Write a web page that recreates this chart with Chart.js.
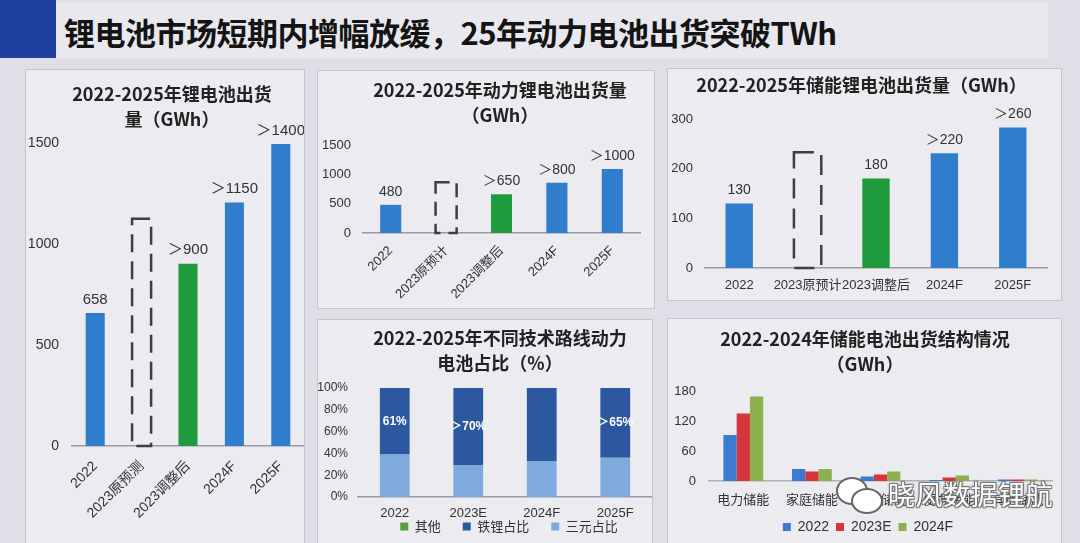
<!DOCTYPE html>
<html>
<head>
<meta charset="utf-8">
<script src="https://cdn.jsdelivr.net/npm/chart.js@4.4.1/dist/chart.umd.min.js"></script>
<style>
  body { margin: 0; width: 1080px; height: 543px; overflow: hidden; position: relative;
         background: #dfdfe7; font-family: 'Noto Sans CJK SC', sans-serif; }
  .band { position: absolute; left: 0; top: 3px; width: 1048px; height: 55px; background: #e8e8ee; }
  .blue { position: absolute; left: 0; top: 0; width: 56px; height: 58px; background: #1e3f9e; }
  .title { position: absolute; left: 64px; top: 9px; font-size: 31px; font-weight: 700; color: #141414;
           letter-spacing: -0.5px; white-space: nowrap; }
  .panel { position: absolute; background: #ebebf0; border: 1px solid #c5c5ce; box-sizing: border-box; }
  .panel div { position: absolute; left: 0; top: 0; right: 0; bottom: 0; }
  .wm { position: absolute; left: 836px; top: 474px; height: 40px; white-space: nowrap; }
  .wm .txt { position: absolute; left: 52px; top: 0; font-size: 27px; color: #fff; letter-spacing: 0.5px;
             text-shadow: -1px -1px 0 #777, 1px -1px 0 #777, -1px 1px 0 #777, 1px 1px 0 #777, 0 0 3px #555; }
  .b1 { position: absolute; left: 0; top: 3px; width: 28px; height: 24px; border-radius: 50%;
        background: #fff; border: 2px solid #666; }
  .b2 { position: absolute; left: 15px; top: 14px; width: 28px; height: 22px; border-radius: 50%;
        background: #fff; border: 2px solid #666; }
</style>
</head>
<body>
<div class="band"></div>
<div class="blue"></div>
<div class="title">锂电池市场短期内增幅放缓，25年动力电池出货突破TWh</div>

<div class="panel" style="left:25px;top:69px;width:280px;height:476px;"><div><canvas id="cTotal"></canvas></div></div>
<div class="panel" style="left:317px;top:70px;width:338px;height:239px;"><div><canvas id="cPower"></canvas></div></div>
<div class="panel" style="left:667px;top:68px;width:395px;height:233px;"><div><canvas id="cStorage"></canvas></div></div>
<div class="panel" style="left:317px;top:319px;width:336px;height:226px;"><div><canvas id="cRoute"></canvas></div></div>
<div class="panel" style="left:667px;top:318px;width:395px;height:227px;"><div><canvas id="cStruct"></canvas></div></div>

<div class="wm"><div class="b1"></div><div class="b2"></div><span class="txt">晓风数据锂航</span></div>

<script>
// ---- data ----
const totalCats = ['2022', '2023原预测', '2023调整后', '2024F', '2025F'];
const totalVals = [658, 1125, 902, 1205, 1495];
const totalLabels = ['658', '', '＞900', '＞1150', '＞1400'];
const totalTicks = [0, 500, 1000, 1500];

const powerCats = ['2022', '2023原预计', '2023调整后', '2024F', '2025F'];
const powerVals = [480, 865, 660, 855, 1090];
const powerLabels = ['480', '', '＞650', '＞800', '＞1000'];
const powerTicks = [0, 500, 1000, 1500];

const storageCats = ['2022', '2023原预计', '2023调整后', '2024F', '2025F'];
const storageVals = [130, 233, 180, 231, 283];
const storageLabels = ['130', '', '180', '＞220', '＞260'];
const storageTicks = [0, 100, 200, 300];

const routeCats = ['2022', '2023E', '2024F', '2025F'];
const ternaryShare = [39, 29, 33, 36];
const lfpShare = [61, 71, 67, 64];
const otherShare = [0, 0, 0, 0];
const lfpLabels = ['61%', '＞70%', '', '＞65%'];
const routeTicks = [0, 20, 40, 60, 80, 100];

const structCats = ['电力储能', '家庭储能', '通信储能', '便携储能', '其他储能'];
const struct2022 = [92, 24, 9, 2, 3];
const struct2023E = [135, 19, 13, 7, 3];
const struct2024F = [169, 24, 19, 11, 3];
const structTicks = [0, 60, 120, 180];

// ---- styling ----
const CJK = "'Noto Sans CJK SC', sans-serif";
const MIX = "'Liberation Sans', 'Noto Sans CJK SC', sans-serif";
const BLUE = '#2f7dcc';
const GREEN = '#1f9b3d';
const CLEAR = 'rgba(0,0,0,0)';
const barColors = [BLUE, CLEAR, GREEN, BLUE, BLUE];

Chart.defaults.animation = false;
Chart.defaults.color = '#333';

function fixedTicks(list) {
    return function (scale) { scale.ticks = list.map(v => ({ value: v })); };
}

function barText(texts, size, gap) {
    return {
        id: 'barText',
        afterDatasetsDraw(chart) {
            const ctx = chart.ctx;
            ctx.save();
            ctx.font = size + 'px ' + MIX;
            ctx.fillStyle = '#333';
            ctx.textAlign = 'center';
            ctx.textBaseline = 'bottom';
            chart.getDatasetMeta(0).data.forEach((bar, i) => {
                if (texts[i]) ctx.fillText(texts[i], bar.x, bar.y - gap);
            });
            ctx.restore();
        }
    };
}

// the "original forecast" bar is only an outline
function dashedBar(index, dash, lw) {
    return {
        id: 'dashedBar',
        afterDatasetsDraw(chart) {
            const bar = chart.getDatasetMeta(0).data[index];
            const ctx = chart.ctx;
            ctx.save();
            ctx.setLineDash(dash);
            ctx.lineWidth = lw;
            ctx.strokeStyle = '#3d3d48';
            ctx.strokeRect(bar.x - bar.width / 2, bar.y, bar.width, bar.base - bar.y);
            ctx.restore();
        }
    };
}

// slide the title / legend boxes sideways (and the legend up) after layout
function nudge(o) {
    return {
        id: 'nudge',
        afterLayout(chart) {
            const t = chart.titleBlock;
            if (t && o.titleDx) { t.left += o.titleDx; t.right += o.titleDx; }
            const l = chart.legend;
            if (l && o.legendDx) { l.left += o.legendDx; l.right += o.legendDx; }
            if (l && o.legendTop != null) {
                l.top = o.legendTop;
                l.bottom = chart.height;
                l.height = l.bottom - l.top;
            }
        }
    };
}

function titleOpt(lines, padTop, padBottom) {
    return {
        display: true, text: lines, color: '#222',
        font: { family: CJK, size: 18, weight: 'bold', lineHeight: 25 / 18 },
        padding: { top: padTop, bottom: padBottom }
    };
}

function valueAxis(ticks, width, size, pad, fmt) {
    return {
        min: 0, max: ticks[ticks.length - 1],
        afterBuildTicks: fixedTicks(ticks),
        afterFit: s => { s.width = width; },
        grid: { display: false, drawTicks: false },
        border: { display: false },
        ticks: { font: { family: MIX, size: size }, color: '#333', padding: pad, callback: fmt || (v => String(v)) }
    };
}

function simpleBar(id, cats, vals, texts, ticks, o) {
    new Chart(document.getElementById(id), {
        type: 'bar',
        data: {
            labels: cats,
            datasets: [{ data: vals, backgroundColor: barColors, barPercentage: o.barPct, categoryPercentage: 1 }]
        },
        options: {
            responsive: true,
            maintainAspectRatio: false,
            layout: { padding: { left: 0, right: o.padRight, top: 0, bottom: 0 } },
            plugins: {
                legend: { display: false },
                tooltip: { enabled: false },
                title: titleOpt(o.title, o.tTop, o.tBottom)
            },
            scales: {
                y: valueAxis(ticks, o.yWidth, o.tickSize, o.tickPad),
                x: {
                    afterFit: s => { s.height = o.xHeight; },
                    grid: { display: false },
                    border: { display: true, color: '#9a9aa4', width: 1.5 },
                    ticks: {
                        font: { family: MIX, size: o.catSize }, color: '#333',
                        minRotation: o.rot, maxRotation: o.rot, padding: o.catPad, autoSkip: false
                    }
                }
            }
        },
        plugins: [barText(texts, o.labelSize, 6), dashedBar(1, o.dash, 2.5), nudge({ titleDx: o.titleDx })]
    });
}

simpleBar('cTotal', totalCats, totalVals, totalLabels, totalTicks, {
    title: ['2022-2025年锂电池出货', '量（GWh）'], tTop: 12, tBottom: 11, titleDx: 7,
    yWidth: 46, xHeight: 98, padRight: 0, barPct: 0.41, rot: 45, catPad: 4,
    tickSize: 14, tickPad: 13, catSize: 14, labelSize: 15, dash: [18, 9]
});

simpleBar('cPower', powerCats, powerVals, powerLabels, powerTicks, {
    title: ['2022-2025年动力锂电池出货量', '（GWh）'], tTop: 7, tBottom: 17, titleDx: 21,
    yWidth: 45, xHeight: 75, padRight: 14, barPct: 0.38, rot: 45, catPad: 2,
    tickSize: 13, tickPad: 12, catSize: 13, labelSize: 14, dash: [14, 8]
});

simpleBar('cStorage', storageCats, storageVals, storageLabels, storageTicks, {
    title: ['2022-2025年储能锂电池出货量（GWh）'], tTop: 4, tBottom: 21, titleDx: 4,
    yWidth: 37, xHeight: 32, padRight: 14, barPct: 0.4, rot: 0, catPad: 2,
    tickSize: 13, tickPad: 12, catSize: 13, labelSize: 14, dash: [20, 10]
});

// stacked share of technology routes
new Chart(document.getElementById('cRoute'), {
    type: 'bar',
    data: {
        labels: routeCats,
        datasets: [
            { label: '三元占比', data: ternaryShare, backgroundColor: '#7faadd' },
            { label: '铁锂占比', data: lfpShare, backgroundColor: '#2c589f' },
            { label: '其他', data: otherShare, backgroundColor: '#5a9e3a' }
        ]
    },
    options: {
        responsive: true,
        maintainAspectRatio: false,
        datasets: { bar: { barPercentage: 0.405, categoryPercentage: 1 } },
        layout: { padding: { left: 0, right: 0, top: 0, bottom: 0 } },
        plugins: {
            tooltip: { enabled: false },
            title: titleOpt(['2022-2025年不同技术路线动力', '电池占比（%）'], 6, 12),
            legend: {
                position: 'bottom', reverse: true, maxHeight: 23,
                labels: { boxWidth: 8, boxHeight: 8, padding: 22, color: '#333', font: { family: CJK, size: 13 } }
            }
        },
        scales: {
            y: Object.assign(valueAxis(routeTicks, 40, 12, 10, v => v + '%'), { stacked: true }),
            x: {
                stacked: true,
                afterFit: s => { s.height = 24; },
                grid: { display: false },
                border: { display: true, color: '#9a9aa4', width: 1.5 },
                ticks: { font: { family: MIX, size: 13 }, color: '#333', padding: 1 }
            }
        }
    },
    plugins: [{
        id: 'lfpText',
        afterDatasetsDraw(chart) {
            const ctx = chart.ctx;
            ctx.save();
            ctx.font = 'bold 12px ' + MIX;
            ctx.fillStyle = '#fff';
            ctx.textAlign = 'center';
            ctx.textBaseline = 'middle';
            chart.getDatasetMeta(1).data.forEach((bar, i) => {
                if (lfpLabels[i]) ctx.fillText(lfpLabels[i], bar.x, (bar.y + bar.base) / 2);
            });
            ctx.restore();
        }
    }, nudge({ titleDx: 15, legendDx: 24, legendTop: 178 })]
});

// storage shipment structure
new Chart(document.getElementById('cStruct'), {
    type: 'bar',
    data: {
        labels: structCats,
        datasets: [
            { label: '2022', data: struct2022, backgroundColor: '#3a7bd0' },
            { label: '2023E', data: struct2023E, backgroundColor: '#d7343c' },
            { label: '2024F', data: struct2024F, backgroundColor: '#8db04e' }
        ]
    },
    options: {
        responsive: true,
        maintainAspectRatio: false,
        datasets: { bar: { barPercentage: 1, categoryPercentage: 0.58 } },
        layout: { padding: { left: 0, right: 9, top: 0, bottom: 0 } },
        plugins: {
            tooltip: { enabled: false },
            title: titleOpt(['2022-2024年储能电池出货结构情况', '（GWh）'], 8, 14),
            legend: {
                position: 'bottom',
                labels: { boxWidth: 8, boxHeight: 8, padding: 7, color: '#333', font: { family: MIX, size: 14 } }
            }
        },
        scales: {
            y: valueAxis(structTicks, 41, 13, 13),
            x: {
                afterFit: s => { s.height = 32; },
                grid: { display: false },
                border: { display: true, color: '#b0b0ba', width: 1.5 },
                ticks: { font: { family: CJK, size: 13 }, color: '#333', padding: 2 }
            }
        }
    },
    plugins: [nudge({ titleDx: 5, legendDx: 8 })]
});
</script>
</body>
</html>
